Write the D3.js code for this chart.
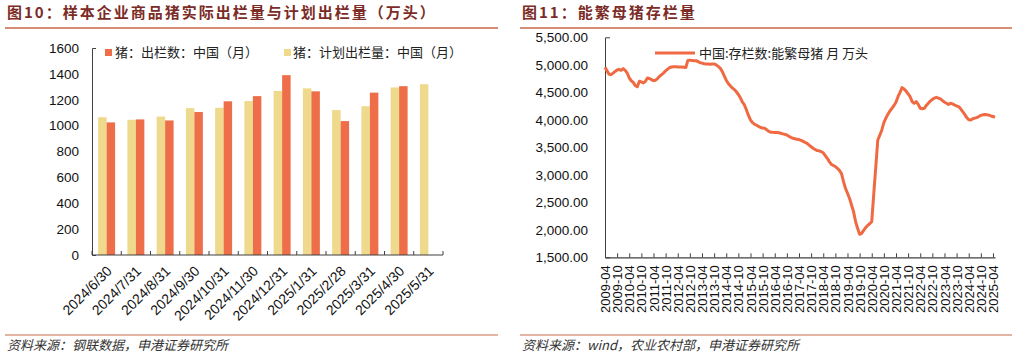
<!DOCTYPE html>
<html><head><meta charset="utf-8">
<script src="https://cdn.jsdelivr.net/npm/d3@7"></script>
<style>
body{margin:0;background:#fff;}
svg{display:block;}
text{font-family:"Liberation Sans",Arial,"Noto Sans CJK SC",sans-serif;}
.cjk{font-family:"Noto Sans CJK SC",sans-serif;}
</style></head>
<body>
<svg id="c" width="1017" height="357"></svg>
<script>
// ---------- Figure 10 data ----------
const barCategories = ["2024/6/30","2024/7/31","2024/8/31","2024/9/30","2024/10/31","2024/11/30","2024/12/31","2025/1/31","2025/2/28","2025/3/31","2025/4/30","2025/5/31"];
const plannedOutput = [1065,1045,1070,1135,1138,1190,1268,1288,1120,1150,1295,1320];
const actualOutput  = [1025,1048,1040,1105,1188,1228,1390,1265,1035,1255,1305,null];
const barYTicks = [0,200,400,600,800,1000,1200,1400,1600];
const barSeriesNames = ["猪：出栏数：中国（月）","猪：计划出栏量：中国（月）"];

// ---------- Figure 11 data ----------
const sowStartMonth = "2009-04";
const sowInventory = [
 4955,4890,4830,4820,4850,4880,4905,4918,4900,
 4930,4900,4850,4760,4710,4680,4620,4600,4700,4690,4670,4700,
 4760,4750,4730,4710,4720,4750,4790,4820,4850,4890,4920,4950,
 4960,4966,4966,4960,4960,4960,4955,4950,5080,5085,5080,5075,
 5075,5060,5040,5030,5020,5015,5015,5010,5015,5015,5000,4970,
 4940,4880,4800,4720,4660,4620,4580,4550,4510,4460,4400,4320,
 4270,4180,4080,3997,3950,3920,3900,3880,3860,3850,3845,3820,
 3790,3775,3772,3770,3770,3765,3755,3745,3735,3724,3700,3680,
 3664,3655,3645,3640,3625,3610,3590,3573,3540,3510,3482,3460,
 3440,3437,3420,3400,3350,3300,3240,3190,3170,3150,3118,3080,
 3027,2880,2755,2665,2573,2450,2330,2150,2027,1918,1935,1990,
 2040,2080,2110,2147,2650,3140,3633,3720,3815,3950,4030,4100,
 4160,4209,4260,4318,4420,4500,4584,4560,4522,4470,4420,4330,
 4300,4330,4280,4209,4200,4209,4260,4300,4340,4370,4395,4409,
 4395,4380,4350,4320,4300,4280,4300,4290,4270,4250,4240,4200,
 4150,4100,4040,4000,3997,4020,4030,4040,4060,4080,4090,4095,
 4090,4085,4070,4060,4046
];
const sowTickLabels = ["2009-04","2009-10","2010-04","2010-10","2011-04","2011-10","2012-04","2012-10","2013-04","2013-10","2014-04","2014-10","2015-04","2015-10","2016-04","2016-10","2017-04","2017-10","2018-04","2018-10","2019-04","2019-10","2020-04","2020-10","2021-04","2021-10","2022-04","2022-10","2023-04","2023-10","2024-04","2024-10","2025-04"];
const sowYTicks = [1500,2000,2500,3000,3500,4000,4500,5000,5500];
const sowSeriesName = "中国:存栏数:能繁母猪 月 万头";

// ---------- styles ----------
const titleColor = "#7b2c26", ruleColor = "#c8694b";
const cOrange = "#ED6E48", cBeige = "#EFD98C", cLine = "#EF6A42", axisColor = "#404040";

const svg = d3.select("#c");

// ---------- headers / footers ----------
function header(x0, x1, title, source){
  svg.append("text").attr("class","cjk").attr("x",x0+2).attr("y",17.5)
    .attr("font-size",15).attr("font-weight",700).attr("fill",titleColor)
    .attr("letter-spacing",2).text(title);
  svg.append("line").attr("x1",x0).attr("x2",x1).attr("y1",28).attr("y2",28)
    .attr("stroke",ruleColor).attr("stroke-width",1.5);
  svg.append("line").attr("x1",x0).attr("x2",x1).attr("y1",335).attr("y2",335)
    .attr("stroke",ruleColor).attr("stroke-width",1.2);
  svg.append("text").attr("class","cjk").attr("x",x0+2).attr("y",350)
    .attr("font-size",13).attr("font-style","italic").attr("fill","#333").text(source);
}
header(5, 498, "图10：样本企业商品猪实际出栏量与计划出栏量（万头）", "资料来源：钢联数据，申港证券研究所");
header(520, 1012, "图11：能繁母猪存栏量", "资料来源：wind，农业农村部，申港证券研究所");

// ---------- Figure 10 ----------
{
  const left = 92, right = 443, top = 48, bottom = 255;
  const x = d3.scaleBand().domain(barCategories).range([left,right]).paddingInner(0.42).paddingOuter(0.21);
  const x1 = d3.scaleBand().domain(["plan","actual"]).range([0,x.bandwidth()]);
  const y = d3.scaleLinear().domain([0,1600]).range([bottom,top]);
  const g = svg.append("g");

  const rows = barCategories.map((c,i)=>({c, plan:plannedOutput[i], actual:actualOutput[i]}));
  g.selectAll(".bp").data(rows).enter().append("rect")
    .attr("x",d=>x(d.c)+x1("plan")).attr("width",x1.bandwidth())
    .attr("y",d=>y(d.plan)).attr("height",d=>y(0)-y(d.plan)).attr("fill",cBeige);
  g.selectAll(".ba").data(rows.filter(d=>d.actual!=null)).enter().append("rect")
    .attr("x",d=>x(d.c)+x1("actual")).attr("width",x1.bandwidth())
    .attr("y",d=>y(d.actual)).attr("height",d=>y(0)-y(d.actual)).attr("fill",cOrange);

  const ya = d3.axisLeft(y).tickValues(barYTicks).tickFormat(d3.format("d")).tickSizeInner(0).tickSizeOuter(-4).tickPadding(13);
  const yg = g.append("g").attr("transform",`translate(${left},0)`).call(ya);
  yg.select(".domain").attr("stroke",axisColor);
  yg.selectAll("text").attr("font-size",13.5).attr("fill","#111").attr("font-family","Liberation Sans, Arial, sans-serif");

  g.append("line").attr("x1",left).attr("x2",right).attr("y1",bottom).attr("y2",bottom).attr("stroke",axisColor).attr("stroke-width",1.2);
  const bounds = barCategories.map(c=>x(c)-x.step()*0.21).concat([right]);
  g.selectAll(".xt").data(bounds).enter().append("line")
    .attr("x1",d=>d).attr("x2",d=>d).attr("y1",bottom).attr("y2",bottom-4).attr("stroke",axisColor);
  g.selectAll(".xl").data(barCategories).enter().append("text")
    .attr("transform",d=>`translate(${x(d)+x.bandwidth()/2-1},${bottom+10}) rotate(-45)`)
    .attr("text-anchor","end").attr("dy","0.71em").attr("font-size",14).attr("fill","#111").text(d=>d);

  const lg = g.append("g");
  lg.append("rect").attr("x",105).attr("y",49).attr("width",7).attr("height",7).attr("fill",cOrange);
  lg.append("text").attr("class","cjk").attr("x",115).attr("y",52.5).attr("dy","0.35em").attr("font-size",13).attr("fill","#222").text(barSeriesNames[0]);
  lg.append("rect").attr("x",284).attr("y",49).attr("width",7).attr("height",7).attr("fill",cBeige);
  lg.append("text").attr("class","cjk").attr("x",293).attr("y",52.5).attr("dy","0.35em").attr("font-size",13).attr("fill","#222").text(barSeriesNames[1]);
}

// ---------- Figure 11 ----------
{
  const left = 605, right = 995, top = 37.3, bottom = 257.3;
  const n = sowInventory.length;
  const x = d3.scaleLinear().domain([0,n-1]).range([left,right]);
  const y = d3.scaleLinear().domain([1500,5500]).range([bottom,top]);
  const g = svg.append("g");

  const ya = d3.axisLeft(y).tickValues(sowYTicks).tickFormat(d3.format(",.2f")).tickSizeInner(0).tickSizeOuter(-5).tickPadding(17);
  const yg = g.append("g").attr("transform",`translate(${left},0)`).call(ya);
  yg.select(".domain").attr("stroke",axisColor);
  yg.selectAll("text").attr("font-size",13.5).attr("fill","#111");

  const tickIdx = sowTickLabels.map((d,i)=>i*6);
  const xa = d3.axisBottom(x).tickValues(tickIdx).tickFormat((d,i)=>sowTickLabels[i]).tickSizeInner(-4).tickSizeOuter(0).tickPadding(0);
  const xg = g.append("g").attr("transform",`translate(0,${bottom})`).call(xa);
  xg.select(".domain").attr("stroke",axisColor).attr("stroke-width",1.2);
  xg.selectAll(".tick line").attr("stroke",axisColor);
  xg.selectAll("text").attr("font-size",13).attr("fill","#111")
    .attr("transform","translate(0,8) rotate(-90)").attr("text-anchor","end").attr("dy","0.35em").attr("y",0).attr("x",0);

  const line = d3.line().x((d,i)=>x(i)).y(d=>y(d)).curve(d3.curveLinear);
  g.append("path").datum(sowInventory).attr("d",line).attr("fill","none")
    .attr("stroke",cLine).attr("stroke-width",3).attr("stroke-linejoin","round");

  g.append("line").attr("x1",655).attr("x2",695).attr("y1",53).attr("y2",53).attr("stroke",cLine).attr("stroke-width",3);
  g.append("text").attr("class","cjk").attr("x",699).attr("y",53).attr("dy","0.35em").attr("font-size",13).attr("fill","#222").text(sowSeriesName);
}
</script>
</body></html>
